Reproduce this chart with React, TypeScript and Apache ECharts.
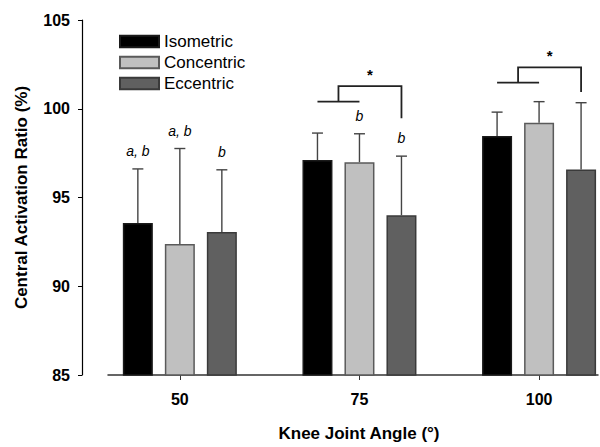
import React, { useEffect, useRef } from "react";
import * as echarts from "echarts";

// ---- data ----
const angles = [50, 75, 100];
const seriesNames = ["Isometric", "Concentric", "Eccentric"];
const isometricMean = [93.57, 97.11, 98.46];
const concentricMean = [92.38, 96.99, 99.21];
const eccentricMean = [93.06, 94.0, 96.58];
const isometricSD = [3.04, 1.52, 1.35];
const concentricSD = [5.38, 1.6, 1.19];
const eccentricSD = [3.5, 3.33, 3.76];
const isometricLetters = ["a, b", "", ""];
const concentricLetters = ["a, b", "b", ""];
const eccentricLetters = ["b", "b", ""];
const bracketAngles = [75, 100];
const bracketLow = [100.4, 101.47];
const bracketHigh = [101.28, 102.33];
const bracketEnd = [99.47, 100.95];
const bracketStar = [102.09, 103.16];
const yTicks = { min: 85, max: 105, interval: 5 };

const FONT = '"Liberation Sans", Arial, Helvetica, sans-serif';
const fills = ["#000000", "#c0c0c0", "#606060"];
const borders = ["#1a1a1a", "#5a5a5a", "#3a3a3a"];
const BAR_W = 30;
const BAR_PITCH = 42;

export default function App() {
  const ref = useRef<HTMLDivElement>(null);
  useEffect(() => {
    if (!ref.current) return;
    const chart = echarts.init(ref.current, undefined, { renderer: "svg" });
    const means = [isometricMean, concentricMean, eccentricMean];
    const sds = [isometricSD, concentricSD, eccentricSD];
    const letters = [isometricLetters, concentricLetters, eccentricLetters];

    const errRows: number[][] = [];
    const errLetters: string[] = [];
    for (let s = 0; s < 3; s++) {
      for (let g = 0; g < angles.length; g++) {
        errRows.push([angles[g], s, means[s][g], means[s][g] + sds[s][g]]);
        errLetters.push(letters[s][g]);
      }
    }
    const bracketRows = bracketAngles.map((a, i) => [
      a,
      bracketLow[i],
      bracketHigh[i],
      bracketEnd[i],
      bracketStar[i],
    ]);

    const barSeries = seriesNames.map((name, s) => ({
      name,
      type: "bar",
      data: angles.map((a, g) => [a, means[s][g]]),
      barWidth: BAR_W,
      barGap: "40%",
      itemStyle: { color: fills[s], borderColor: borders[s], borderWidth: 1.5 },
      z: 2,
    }));

    chart.setOption({
      animation: false,
      backgroundColor: "#ffffff",
      textStyle: { fontFamily: FONT },
      grid: { left: 108, right: 2, top: 20, bottom: 65.3, containLabel: false },
      legend: {
        data: seriesNames,
        orient: "vertical",
        left: 114,
        top: 28,
        itemWidth: 39,
        itemHeight: 11.5,
        itemGap: 4,
        icon: "rect",
        textStyle: { fontSize: 17, color: "#000", fontFamily: FONT },
        selectedMode: false,
      },
      xAxis: {
        type: "value",
        min: 40,
        max: 108.2,
        name: "Knee Joint Angle (°)",
        nameLocation: "middle",
        nameGap: 50,
        nameTextStyle: {
          fontSize: 17,
          fontWeight: "bold",
          color: "#000",
          fontFamily: FONT,
          padding: [0, 0, 0, 12],
        },
        axisLine: { show: true, onZero: false, lineStyle: { color: "#333", width: 1.5 } },
        axisTick: { show: true, customValues: angles, length: 5, lineStyle: { color: "#333" } },
        axisLabel: {
          customValues: angles,
          fontSize: 16,
          fontWeight: "bold",
          color: "#000",
          margin: 16,
          fontFamily: FONT,
        },
        splitLine: { show: false },
      },
      yAxis: {
        type: "value",
        min: yTicks.min,
        max: yTicks.max,
        interval: yTicks.interval,
        offset: 26,
        name: "Central Activation Ratio (%)",
        nameLocation: "middle",
        nameGap: 52,
        nameTextStyle: { fontSize: 17, fontWeight: "bold", color: "#000", fontFamily: FONT },
        axisLine: { show: true, lineStyle: { color: "#000", width: 1.2 } },
        axisTick: { show: true, length: 4, lineStyle: { color: "#000" } },
        axisLabel: { fontSize: 16, fontWeight: "bold", color: "#000", margin: 12, fontFamily: FONT },
        splitLine: { show: false },
      },
      series: [
        ...barSeries,
        {
          name: "errors",
          type: "custom",
          data: errRows,
          encode: { x: 0, y: 3 },
          z: 3,
          silent: true,
          renderItem: (params: any, api: any) => {
            const angle = api.value(0);
            const s = api.value(1);
            const top = api.coord([angle, api.value(3)]);
            const mid = api.coord([angle, api.value(2)]);
            const x = top[0] + (s - 1) * BAR_PITCH;
            const children: any[] = [
              {
                type: "line",
                shape: { x1: x, y1: mid[1], x2: x, y2: top[1] },
                style: { stroke: "#444", lineWidth: 1.4 },
              },
              {
                type: "line",
                shape: { x1: x - 5.5, y1: top[1], x2: x + 5.5, y2: top[1] },
                style: { stroke: "#444", lineWidth: 1.4 },
              },
            ];
            const lt = errLetters[params.dataIndex];
            if (lt) {
              children.push({
                type: "text",
                style: {
                  text: lt,
                  x,
                  y: top[1] - 18,
                  fill: "#000",
                  font: `italic 14px ${FONT}`,
                  align: "center",
                  verticalAlign: "middle",
                },
              });
            }
            return { type: "group", children };
          },
        },
        {
          name: "brackets",
          type: "custom",
          data: bracketRows,
          encode: { x: 0, y: 2 },
          z: 3,
          silent: true,
          renderItem: (params: any, api: any) => {
            const angle = api.value(0);
            const low = api.coord([angle, api.value(1)]);
            const high = api.coord([angle, api.value(2)]);
            const end = api.coord([angle, api.value(3)]);
            const star = api.coord([angle, api.value(4)]);
            const cx = low[0];
            const isoX = cx - BAR_PITCH;
            const ecX = cx + BAR_PITCH;
            const midX = (isoX + cx) / 2;
            return {
              type: "group",
              children: [
                {
                  type: "line",
                  shape: { x1: isoX, y1: low[1], x2: cx, y2: low[1] },
                  style: { stroke: "#222", lineWidth: 1.8 },
                },
                {
                  type: "polyline",
                  shape: {
                    points: [
                      [midX, low[1]],
                      [midX, high[1]],
                      [ecX, high[1]],
                      [ecX, end[1]],
                    ],
                  },
                  style: { stroke: "#222", lineWidth: 1.8, fill: "none" },
                },
                {
                  type: "text",
                  style: {
                    text: "*",
                    x: (midX + ecX) / 2,
                    y: star[1] + 3,
                    fill: "#000",
                    font: `bold 15px ${FONT}`,
                    align: "center",
                    verticalAlign: "middle",
                  },
                },
              ],
            };
          },
        },
      ],
    });
    return () => chart.dispose();
  }, []);
  return (
    <div
      ref={ref}
      style={{ position: "fixed", left: 0, top: 0, width: 600, height: 447, background: "#fff" }}
    />
  );
}
